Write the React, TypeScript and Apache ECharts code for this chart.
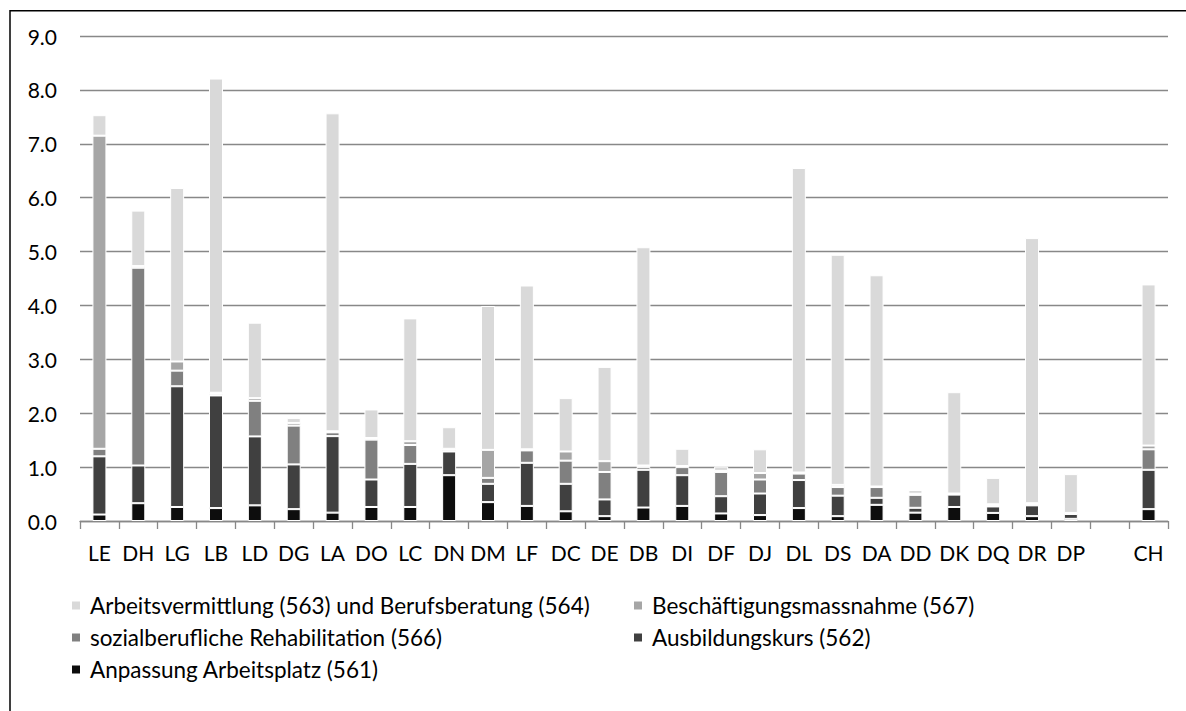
import React, { useEffect, useRef } from "react";
import * as echarts from "echarts";

const categories = ["LE","DH","LG","LB","LD","DG","LA","DO","LC","DN","DM","LF","DC","DE","DB","DI","DF","DJ","DL","DS","DA","DD","DK","DQ","DR","DP","","CH"];

const seriesNames = [
  "Anpassung Arbeitsplatz (561)",
  "Ausbildungskurs (562)",
  "sozialberufliche Rehabilitation (566)",
  "Beschäftigungsmassnahme (567)",
  "Arbeitsvermittlung (563) und Berufsberatung (564)",
];

const anpassung561 = [0.12,0.33,0.26,0.24,0.29,0.22,0.155,0.26,0.26,0.85,0.35,0.28,0.18,0.09,0.25,0.28,0.14,0.11,0.24,0.09,0.30,0.155,0.26,0.15,0.09,0.04,null,0.22];
const ausbildung562 = [1.08,0.70,2.24,2.09,1.28,0.83,1.42,0.51,0.80,0.44,0.34,0.80,0.51,0.31,0.70,0.57,0.32,0.40,0.52,0.38,0.13,0.09,0.23,0.12,0.20,0.09,null,0.73];
const sozial566 = [0.14,3.67,0.29,0.03,0.66,0.72,0.07,0.74,0.35,0.03,0.11,0.23,0.43,0.51,0.05,0.15,0.45,0.26,0.12,0.16,0.20,0.24,0.01,0.02,0.02,0.01,null,0.38];
const beschaeftigung567 = [5.81,0.03,0.17,0.02,0.05,0.05,0.02,0.03,0.07,0.02,0.52,0.02,0.17,0.20,0.03,0.02,0.02,0.12,0.02,0.04,0.01,0.02,0.01,0.02,0.02,0.01,null,0.07];
const vermittlung563 = [0.38,1.03,3.22,5.83,1.40,0.09,5.90,0.53,2.28,0.40,2.67,3.04,0.99,1.75,4.05,0.32,0.08,0.44,5.65,4.27,3.92,0.07,1.88,0.49,4.92,0.72,null,2.99];

const colors = ["#0D0D0D", "#404040", "#808080", "#A6A6A6", "#D9D9D9"];
const values = [anpassung561, ausbildung562, sozial566, beschaeftigung567, vermittlung563];

const FONT = "Lato, 'Noto Sans', sans-serif";

export default function App() {
  const ref = useRef<HTMLDivElement>(null);
  useEffect(() => {
    if (!ref.current) return;
    const chart = echarts.init(ref.current, undefined, { renderer: "svg" });
    const series = seriesNames.map((name, i) => ({
      name,
      type: "bar",
      stack: "total",
      barWidth: 14,
      data: values[i],
      itemStyle: { color: colors[i], borderColor: "#ffffff", borderWidth: 1 },
    }));
    const legendText = { color: "#000", fontFamily: FONT, fontSize: 22.5, lineHeight: 22, padding: [0, 0, 0, 4] };
    chart.setOption({
      animation: false,
      backgroundColor: "#ffffff",
      textStyle: { fontFamily: FONT },
      grid: { left: 80, right: 18, top: 36, bottom: 190, containLabel: false },
      xAxis: {
        type: "category",
        data: categories,
        axisLine: { lineStyle: { color: "#888888", width: 1.3 } },
        axisTick: { show: true, length: 8, lineStyle: { color: "#888888", width: 1.3 } },
        axisLabel: { color: "#000", fontSize: 21, fontFamily: FONT, margin: 21, interval: 0 },
      },
      yAxis: {
        type: "value",
        min: 0,
        max: 9,
        interval: 1,
        axisLine: { show: false },
        axisTick: { show: false },
        splitLine: { lineStyle: { color: "#888888", width: 1.3 } },
        axisLabel: {
          color: "#000",
          fontSize: 21,
          fontFamily: FONT,
          margin: 23,
          formatter: (v: number) => v.toFixed(1),
        },
      },
      legend: [
        {
          orient: "vertical",
          left: 65,
          top: 589,
          itemWidth: 10,
          itemHeight: 10,
          itemGap: 9,
          icon: "rect",
          data: [seriesNames[4], seriesNames[2], seriesNames[0]],
          textStyle: legendText,
          selectedMode: false,
        },
        {
          orient: "vertical",
          left: 627,
          top: 589,
          itemWidth: 10,
          itemHeight: 10,
          itemGap: 9,
          icon: "rect",
          data: [seriesNames[3], seriesNames[1]],
          textStyle: legendText,
          selectedMode: false,
        },
      ],
      graphic: [
        {
          type: "rect",
          shape: { x: 10, y: 10.75, width: 1400, height: 1000 },
          style: { fill: "none", stroke: "#000", lineWidth: 1.5 },
          silent: true,
        },
      ],
      series,
    });
    return () => chart.dispose();
  }, []);
  return (
    <div
      ref={ref}
      style={{ position: "absolute", left: 0, top: 0, width: 1186, height: 711, background: "#fff" }}
    />
  );
}
